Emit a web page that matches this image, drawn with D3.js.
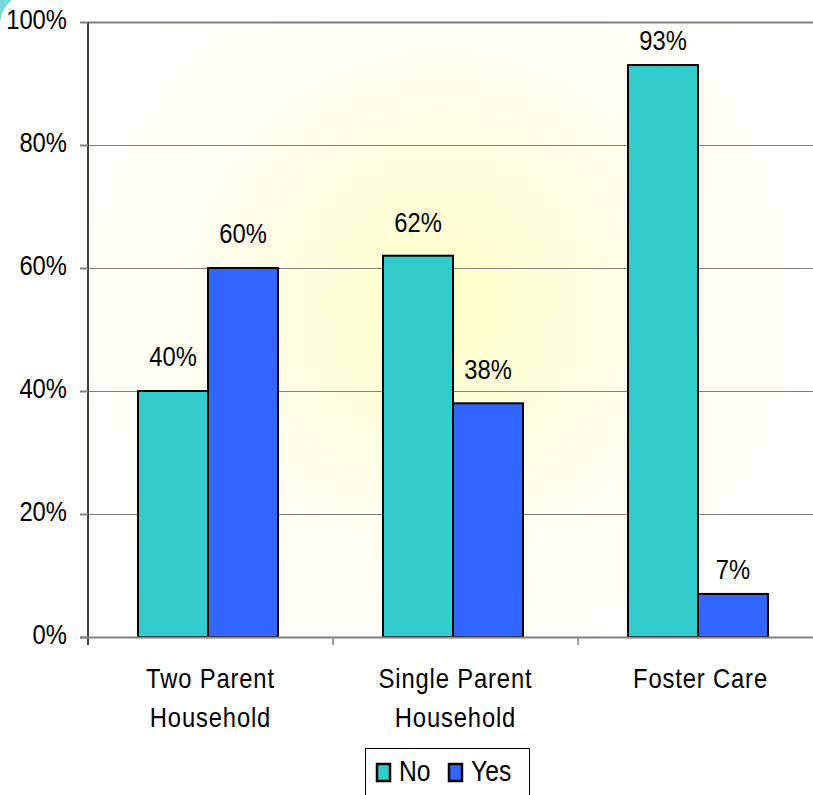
<!DOCTYPE html>
<html><head><meta charset="utf-8">
<script src="https://cdn.jsdelivr.net/npm/d3@7"></script>
<style>body{margin:0;background:#fff}svg{display:block}text{font-family:"Liberation Sans",Arial,sans-serif;fill:#000}</style>
</head><body>
<script>
const categories = [["Two Parent","Household"],["Single Parent","Household"],["Foster Care"]];
const series = ["No","Yes"];
const noValues = [40,62,93];
const yesValues = [60,38,7];
const yTicks = [0,20,40,60,80,100];
const colors = ["#33CCCC","#3366FF"];

(function(){
const W=813,H=795,SX=0.85;
const labelGap=[25,24,15];
const svg=d3.select("body").append("svg").attr("width",W).attr("height",H);
const defs=svg.append("defs");
const rg=defs.append("radialGradient").attr("id","bg").attr("gradientUnits","userSpaceOnUse")
  .attr("cx",440).attr("cy",300).attr("r",420);
rg.append("stop").attr("offset","0%").attr("stop-color","#ffffc8");
rg.append("stop").attr("offset","55%").attr("stop-color","#fffff0");
rg.append("stop").attr("offset","100%").attr("stop-color","#ffffff");

const pL=88,pT=22,pB=637,pR=823;
const x=d3.scaleBand().domain(d3.range(categories.length)).range([pL,pR]);
const y=d3.scaleLinear().domain([0,100]).range([pB,pT]);
const barW=70, groupOff=50;

function label(sel, fx, fy, size){
  return sel.attr("transform",(d,i)=>`translate(${fx(d,i)},${fy(d,i)}) scale(${SX},1)`).attr("font-size",size);
}

svg.append("rect").attr("x",pL).attr("y",pT).attr("width",W-pL).attr("height",pB-pT).attr("fill","url(#bg)");

// corner artifact
svg.append("path").attr("d","M0,22 Q2,8 12,0 L0,0 Z").attr("fill","#7fd8d8");

// gridlines
svg.selectAll(".grid").data(yTicks.filter(d=>d>0)).enter().append("line")
  .attr("x1",pL).attr("x2",W).attr("y1",d=>y(d)+0.5).attr("y2",d=>y(d)+0.5)
  .attr("stroke","#808080").attr("stroke-width",d=>d===100?2:1);

// bars
const data=[];
categories.forEach((c,i)=>{
  [noValues[i],yesValues[i]].forEach((v,j)=>data.push({i,j,v}));
});
svg.selectAll(".bar").data(data).enter().append("rect")
  .attr("x",d=>x(d.i)+groupOff+d.j*barW).attr("y",d=>y(d.v))
  .attr("width",barW).attr("height",d=>y(0)-y(d.v))
  .attr("fill",d=>colors[d.j]).attr("stroke","#000").attr("stroke-width",2);

label(svg.selectAll(".val").data(data).enter().append("text"),
  d=>x(d.i)+groupOff+d.j*barW+barW/2, d=>y(d.v)-labelGap[d.i], 28)
  .attr("text-anchor","middle").text(d=>d.v+"%");

// axes
svg.append("line").attr("x1",pL).attr("x2",pL).attr("y1",pT).attr("y2",pB+8).attr("stroke","#404040").attr("stroke-width",2);
svg.append("line").attr("x1",pL-8).attr("x2",W).attr("y1",pB+0.5).attr("y2",pB+0.5).attr("stroke","#808080").attr("stroke-width",2);
svg.selectAll(".yt").data(yTicks).enter().append("line")
  .attr("x1",pL-8).attr("x2",pL).attr("y1",d=>y(d)+0.5).attr("y2",d=>y(d)+0.5).attr("stroke","#808080").attr("stroke-width",2);
svg.selectAll(".xt").data(d3.range(1,categories.length)).enter().append("line")
  .attr("x1",d=>x(d)).attr("x2",d=>x(d)).attr("y1",pB).attr("y2",pB+8).attr("stroke","#808080").attr("stroke-width",1.5);
label(svg.selectAll(".ylab").data(yTicks).enter().append("text"),
  ()=>67, d=>y(d)+7, 28).attr("text-anchor","end").text(d=>d+"%");

const cl=label(svg.selectAll(".cl").data(categories).enter().append("text"),
  (d,i)=>x(i)+x.bandwidth()/2, ()=>688, 28).attr("text-anchor","middle").attr("letter-spacing",1);
cl.selectAll("tspan").data(d=>d).enter().append("tspan")
  .attr("x",0).attr("y",(d,k)=>k*39).text(d=>d);

// legend
const lg=svg.append("g");
lg.append("rect").attr("x",365.5).attr("y",748.5).attr("width",164).attr("height",60).attr("fill","url(#bg)").attr("stroke","#000").attr("stroke-width",1);
series.forEach((s,j)=>{
  const lx=[377,449][j];
  lg.append("rect").attr("x",lx).attr("y",764).attr("width",13).attr("height",17).attr("fill",colors[j]).attr("stroke","#000").attr("stroke-width",2.5);
  lg.append("text").attr("transform",`translate(${lx+22},781) scale(${SX},1)`).attr("font-size",29).text(s);
});
})();
</script>
</body></html>
